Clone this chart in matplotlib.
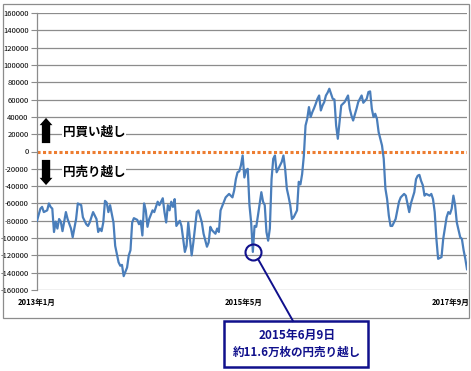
import numpy as np
import matplotlib
matplotlib.use("Agg")
import matplotlib.pyplot as plt
import matplotlib.transforms as mtransforms
from matplotlib.patches import Rectangle
from matplotlib.lines import Line2D

plt.rcParams['font.family'] = ['Noto Sans CJK JP', 'DejaVu Sans']
plt.rcParams['axes.unicode_minus'] = False

# ---- data (weeks since 2013-01-01, net positions in contracts) ----
start_date = '2013-01-01'
weeks = [0, 2, 3, 4, 6, 7, 8, 9, 10, 11, 12, 13, 14, 15, 17, 18, 20, 21, 23, 24,
         26, 27, 29, 30, 31, 33, 35, 36, 37, 38, 39, 40, 41, 42, 43, 45, 46, 48, 49, 50,
         51, 53, 54, 55, 56, 57, 59, 60, 61, 62, 63, 64, 65, 66, 68, 69, 70, 71, 72, 74,
         75, 76, 77, 78, 79, 80, 81, 82, 84, 85, 87, 88, 89, 90, 91, 92, 94, 95, 97, 98,
         100, 101, 102, 103, 105, 106, 107, 108, 110, 111, 113, 115, 116, 117, 118, 119, 120, 121, 122, 123,
         124, 125, 126, 127, 128, 129, 130, 132, 133, 134, 135, 136, 137, 138, 139, 140, 141, 142, 144, 145,
         146, 147, 148, 149, 150, 151, 152, 153, 154, 155, 156, 157, 158, 159, 160, 161, 162, 163, 164, 165,
         166, 167, 168, 169, 170, 171, 172, 173, 174, 175, 176, 177, 178, 179, 181, 182, 183, 184, 185, 186,
         188, 189, 191, 192, 194, 195, 196, 197, 198, 199, 200, 201, 203, 204, 205, 206, 207, 208, 209, 211,
         213, 214, 216, 217, 219, 220, 222, 223, 224, 225, 226, 227, 228, 229, 231, 232, 233, 234, 235, 236,
         238, 239, 241, 242, 243, 244, 245, 246, 247, 249, 250, 251, 252, 253]
net_position = [-80000, -66000, -64000, -70000, -68000, -60000, -64000, -66000, -93000, -81000,
                -89000, -78000, -81000, -92000, -70000, -78000, -89000, -99000, -78000, -60000,
                -62000, -76000, -84000, -86000, -82000, -70000, -78000, -93000, -89000, -92000,
                -82000, -57000, -59000, -70000, -62000, -82000, -109000, -128000, -132000, -131000,
                -144000, -134000, -120000, -114000, -82000, -77000, -79000, -84000, -80000, -97000,
                -60000, -68000, -87000, -78000, -68000, -70000, -64000, -58000, -62000, -54000,
                -70000, -82000, -62000, -68000, -58000, -64000, -55000, -86000, -80000, -86000,
                -116000, -109000, -82000, -101000, -120000, -105000, -70000, -68000, -82000, -95000,
                -110000, -105000, -87000, -91000, -95000, -89000, -93000, -68000, -58000, -53000,
                -49000, -53000, -45000, -32000, -24000, -23000, -16000, -4600, -30000, -22000,
                -20000, -62000, -82000, -116000, -86000, -87000, -74000, -47000, -58000, -62000,
                -93000, -103000, -89000, -32000, -8400, -4600, -24000, -20000, -12000, -4600,
                -20000, -43000, -52000, -62000, -78000, -76000, -72000, -68000, -35000, -38000,
                -26000, -5000, 30000, 37800, 51300, 39800, 45500, 50000, 55100, 60900,
                64700, 47400, 53200, 57100, 64700, 68000, 72500, 66700, 60900, 60100,
                30000, 14700, 34000, 53200, 57100, 60900, 64700, 49400, 41600, 35800,
                49400, 57100, 64700, 56300, 60900, 68700, 69400, 49400, 39800, 43600,
                37800, 22400, 6900, -8400, -43000, -55000, -74000, -86000, -86000, -78000,
                -58000, -53000, -49000, -51000, -70000, -60000, -47000, -32000, -28000, -27000,
                -34000, -39000, -51000, -49000, -51000, -49000, -55000, -70000, -101000, -124000,
                -122000, -101000, -76000, -70000, -72000, -66000, -51000, -62000, -82000, -99000,
                -101000, -114000, -124000, -136000]
highlight_week = 127
tick_dates = ['2013-01-01', '2015-05-01', '2017-09-01']
tick_labels = ['2013年1月', '2015年5月', '2017年9月']
y_ticks = list(range(-160000, 160001, 20000))
label_buy = '円買い越し'
label_sell = '円売り越し'
callout_lines = ['2015年6月9日', '約11.6万枚の円売り越し']

# ---- figure ----
W, H = 471, 371
fig = plt.figure(figsize=(W / 100, H / 100), dpi=100)
fig.patch.set_facecolor('white')

def fx(px):
    return px / W

def fy(py):
    return 1 - py / H

ax = fig.add_axes([fx(37), fy(290), fx(467) - fx(37), fy(13) - fy(290)])

dates = np.datetime64(start_date) + np.array(weeks) * np.timedelta64(7, 'D')
vals = np.array(net_position)

grid_c = '#8c8c8c'
for v in y_ticks:
    if v != 0:
        ax.axhline(v, color=grid_c, lw=0.9, zorder=1)
ax.axhline(0, color='#ED7D31', lw=2.2, linestyle=(0, (1.0, 0.8)), zorder=2)

ax.plot(dates, vals, color='#4A7EBB', lw=1.6, zorder=3)

hi = weeks.index(highlight_week)
navy = '#10108c'
ax.plot([dates[hi]], [vals[hi]], marker='o', markersize=11.5, mfc='none',
        mec=navy, mew=1.5, zorder=4)

ax.set_xlim(dates[0], dates[-1])
ax.set_ylim(-160000, 160000)
ax.set_yticks(y_ticks)
ax.set_yticklabels([str(v) for v in y_ticks])
ax.set_xticks(np.array(tick_dates, dtype='datetime64[D]'))
ax.set_xticklabels(tick_labels, fontweight='bold')
ax.tick_params(axis='y', labelsize=5.5, length=4, color=grid_c, pad=2)
ax.tick_params(axis='x', labelsize=5.5, length=0, pad=6)
for s in ['top', 'right', 'bottom']:
    ax.spines[s].set_visible(False)
ax.spines['left'].set_color(grid_c)
ax.spines['left'].set_linewidth(0.9)

# arrows & labels
trans = mtransforms.blended_transform_factory(ax.transAxes, ax.transData)
arrow_kw = dict(arrowstyle='simple,head_length=0.65,head_width=1.15,tail_width=0.75',
                fc='black', ec='black', lw=0, mutation_scale=8)
ax.annotate('', xy=(0.021, 42000), xytext=(0.021, 6500), xycoords=trans,
            textcoords=trans, arrowprops=arrow_kw, zorder=5)
ax.annotate('', xy=(0.021, -42000), xytext=(0.021, -6500), xycoords=trans,
            textcoords=trans, arrowprops=arrow_kw, zorder=5)
bbox_w = dict(facecolor='white', edgecolor='none', pad=0.5)
ax.text(0.06, 22500, label_buy, transform=trans, fontsize=9, fontweight='bold',
        va='center', ha='left', bbox=bbox_w, zorder=5)
ax.text(0.06, -23500, label_sell, transform=trans, fontsize=9, fontweight='bold',
        va='center', ha='left', bbox=bbox_w, zorder=5)

# outer chart border
fig.patches.append(Rectangle((fx(2.5), fy(317.5)), fx(468.5) - fx(2.5), fy(4) - fy(317.5),
                             transform=fig.transFigure, fill=False, ec=grid_c, lw=0.9))

# callout connector and box
fig.lines.append(Line2D([fx(258), fx(293)], [fy(259), fy(321)], transform=fig.transFigure,
                        color=navy, lw=1.4))
fig.patches.append(Rectangle((fx(224), fy(367)), fx(368) - fx(224), fy(321) - fy(367),
                             transform=fig.transFigure, fill=True, fc='white', ec=navy, lw=1.8))
fig.text(fx(297), fy(335.5), callout_lines[0], ha='center', va='center', fontsize=8.5,
         fontweight='bold', color=navy)
fig.text(fx(297), fy(352), callout_lines[1], ha='center', va='center', fontsize=8.3,
         fontweight='bold', color=navy)

fig.savefig('out.png', dpi=100)
